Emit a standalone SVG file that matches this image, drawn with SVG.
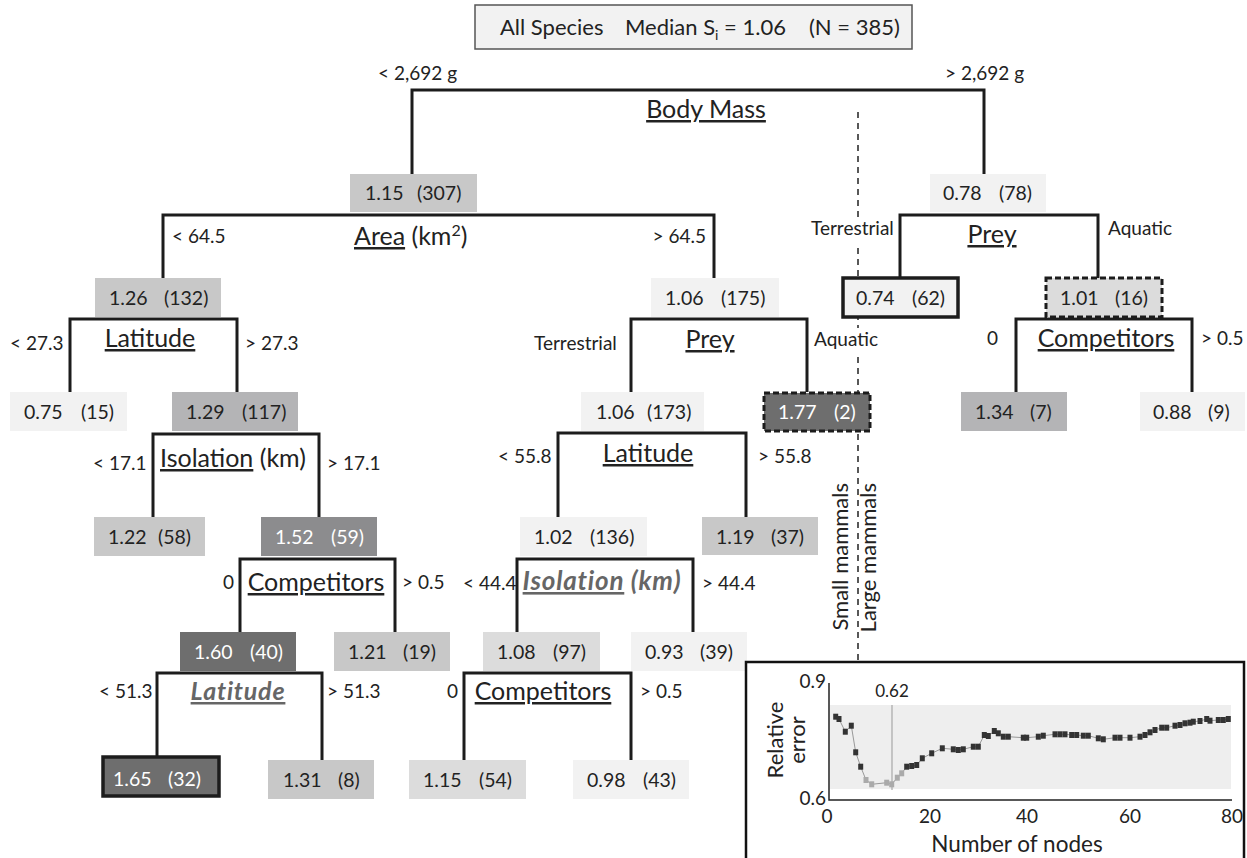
<svg xmlns="http://www.w3.org/2000/svg" width="1247" height="858" viewBox="0 0 1247 858">
<style>
text{font-family:Lato,"Liberation Sans",sans-serif;fill:#222}
.n{font-size:19.5px}
.w{fill:#fff}
.lab{font-size:25px;text-anchor:middle}
.u{text-decoration:underline}
.it{font-style:italic;font-weight:bold;fill:#666;letter-spacing:0.8px}
.br{font-size:19px}
.conn{fill:none;stroke:#1c1c1c;stroke-width:3;stroke-linejoin:miter}
.c1{fill:#f2f2f2}.c2{fill:#dcdcdc}.c3{fill:#c8c8c8}.c4{fill:#b4b4b6}.c5{fill:#8c8c8e}.c6{fill:#6e6e6e}
.bold{stroke:#1c1c1c;stroke-width:3.5}
.dash{stroke:#1c1c1c;stroke-width:3;stroke-dasharray:6,3}
.mk{fill:#333}.mkl{fill:#aaa}
</style>

<g id="header">
<rect x="475" y="5" width="437" height="44" fill="#f2f2f2" stroke="#555" stroke-width="1.5"/>
<text x="500" y="35" font-size="22">All Species<tspan x="625">Median S</tspan><tspan font-size="14" dy="5">i</tspan><tspan dy="-5"> = 1.06</tspan><tspan x="809">(N = 385)</tspan></text>
</g>

<g id="divider">
<path d="M858,112V218M858,248V328M858,357V662" stroke="#222" stroke-width="1.5" stroke-dasharray="6,5" fill="none"/>
<text transform="translate(848,483) rotate(-90)" font-size="22" text-anchor="end">Small mammals</text>
<text transform="translate(876,483) rotate(-90)" font-size="22" text-anchor="end">Large mammals</text>
</g>

<g id="connectors">
<path class="conn" d="M412,174V90H984V174"/>
<path class="conn" d="M163,278V215H714V278"/>
<path class="conn" d="M70,392V319H237V392"/>
<path class="conn" d="M153,517V434H319V517"/>
<path class="conn" d="M240,632V559H395V632"/>
<path class="conn" d="M157,767V673H322V760"/>
<path class="conn" d="M631,392V319H807V392"/>
<path class="conn" d="M558,517V433H746V517"/>
<path class="conn" d="M517,632V559H693V632"/>
<path class="conn" d="M464,760V673H631V760"/>
<path class="conn" d="M900,278V215H1098V278"/>
<path class="conn" d="M1016,392V319H1192V392"/>
</g>

<g id="split-labels">
<text class="lab u" x="706" y="118">Body Mass</text>
<text x="378" y="80" class="br">&lt; 2,692 g</text>
<text x="945" y="80" class="br">&gt; 2,692 g</text>
<text x="354" y="245" font-size="25"><tspan class="u">Area</tspan> (km<tspan font-size="16" dy="-9">2</tspan><tspan dy="9">)</tspan></text>
<text x="172" y="243" class="br">&lt; 64.5</text>
<text x="706" y="243" class="br" text-anchor="end">&gt; 64.5</text>
<text class="lab u" x="150" y="347">Latitude</text>
<text x="10" y="350" class="br">&lt; 27.3</text>
<text x="245" y="350" class="br">&gt; 27.3</text>
<text x="160" y="467" font-size="25"><tspan class="u">Isolation</tspan> (km)</text>
<text x="93" y="470" class="br">&lt; 17.1</text>
<text x="327" y="470" class="br">&gt; 17.1</text>
<text class="lab u" x="316" y="591">Competitors</text>
<text x="223" y="589" class="br">0</text>
<text x="402" y="589" class="br">&gt; 0.5</text>
<text class="lab u it" x="238" y="700" font-size="26">Latitude</text>
<text x="99" y="698" class="br">&lt; 51.3</text>
<text x="327" y="698" class="br">&gt; 51.3</text>
<text class="lab u" x="710" y="348">Prey</text>
<text x="534" y="350" class="br">Terrestrial</text>
<text x="814" y="346" class="br">Aquatic</text>
<text class="lab u" x="648" y="462">Latitude</text>
<text x="498" y="463" class="br">&lt; 55.8</text>
<text x="758" y="463" class="br">&gt; 55.8</text>
<text x="602" y="590" font-size="26" text-anchor="middle" class="it"><tspan class="u">Isolation</tspan> (km)</text>
<text x="463" y="590" class="br">&lt; 44.4</text>
<text x="702" y="590" class="br">&gt; 44.4</text>
<text class="lab u" x="543" y="700">Competitors</text>
<text x="447" y="698" class="br">0</text>
<text x="640" y="698" class="br">&gt; 0.5</text>
<text class="lab u" x="992" y="243">Prey</text>
<text x="811" y="235" class="br">Terrestrial</text>
<text x="1108" y="235" class="br">Aquatic</text>
<text class="lab u" x="1106" y="347">Competitors</text>
<text x="987" y="345" class="br">0</text>
<text x="1201" y="345" class="br">&gt; 0.5</text>
</g>

<g id="n-1-15-307"><rect class="c3" x="350" y="174" width="127" height="38"/><text class="n" x="365" y="200">1.15<tspan x="417">(307)</tspan></text></g>
<g id="n-0-78-78"><rect class="c1" x="930" y="174" width="116" height="38"/><text class="n" x="943" y="200">0.78<tspan x="999">(78)</tspan></text></g>
<g id="n-1-26-132"><rect class="c3" x="95" y="278" width="126" height="39"/><text class="n" x="109" y="305">1.26<tspan x="164">(132)</tspan></text></g>
<g id="n-1-06-175"><rect class="c1" x="651" y="278" width="128" height="39"/><text class="n" x="665" y="305">1.06<tspan x="721">(175)</tspan></text></g>
<g id="n-0-74-62"><rect class="c1 bold" x="843" y="278" width="115" height="39"/><text class="n" x="856" y="305">0.74<tspan x="912">(62)</tspan></text></g>
<g id="n-1-01-16"><rect class="c2 dash" x="1046" y="278" width="116" height="39"/><text class="n" x="1060" y="305">1.01<tspan x="1115">(16)</tspan></text></g>
<g id="n-0-75-15"><rect class="c1" x="10" y="392" width="117" height="39"/><text class="n" x="24" y="419">0.75<tspan x="81">(15)</tspan></text></g>
<g id="n-1-29-117"><rect class="c4" x="172" y="392" width="126" height="39"/><text class="n" x="186" y="419">1.29<tspan x="242">(117)</tspan></text></g>
<g id="n-1-06-173"><rect class="c1" x="581" y="392" width="123" height="39"/><text class="n" x="596" y="419">1.06<tspan x="647">(173)</tspan></text></g>
<g id="n-1-77-2"><rect class="c6 dash" x="764" y="393" width="106" height="38"/><text class="n w" x="778" y="419">1.77<tspan x="834">(2)</tspan></text></g>
<g id="n-1-34-7"><rect class="c4" x="961" y="392" width="106" height="39"/><text class="n" x="975" y="419">1.34<tspan x="1030">(7)</tspan></text></g>
<g id="n-0-88-9"><rect class="c1" x="1140" y="392" width="105" height="39"/><text class="n" x="1153" y="419">0.88<tspan x="1208">(9)</tspan></text></g>
<g id="n-1-22-58"><rect class="c3" x="94" y="517" width="111" height="39"/><text class="n" x="108" y="544">1.22<tspan x="158">(58)</tspan></text></g>
<g id="n-1-52-59"><rect class="c5" x="261" y="517" width="116" height="39"/><text class="n w" x="275" y="544">1.52<tspan x="331">(59)</tspan></text></g>
<g id="n-1-02-136"><rect class="c1" x="520" y="517" width="127" height="39"/><text class="n" x="534" y="544">1.02<tspan x="590">(136)</tspan></text></g>
<g id="n-1-19-37"><rect class="c3" x="702" y="517" width="116" height="38"/><text class="n" x="716" y="544">1.19<tspan x="771">(37)</tspan></text></g>
<g id="n-1-60-40"><rect class="c6" x="180" y="632" width="116" height="39"/><text class="n w" x="194" y="659">1.60<tspan x="250">(40)</tspan></text></g>
<g id="n-1-21-19"><rect class="c3" x="334" y="632" width="116" height="39"/><text class="n" x="348" y="659">1.21<tspan x="403">(19)</tspan></text></g>
<g id="n-1-08-97"><rect class="c2" x="483" y="632" width="117" height="39"/><text class="n" x="497" y="659">1.08<tspan x="553">(97)</tspan></text></g>
<g id="n-0-93-39"><rect class="c1" x="631" y="632" width="116" height="39"/><text class="n" x="645" y="659">0.93<tspan x="700">(39)</tspan></text></g>
<g id="n-1-65-32"><rect class="c6 bold" x="103" y="757" width="116" height="39"/><text class="n w" x="113" y="786">1.65<tspan x="168">(32)</tspan></text></g>
<g id="n-1-31-8"><rect class="c3" x="268" y="760" width="106" height="39"/><text class="n" x="283" y="787">1.31<tspan x="338">(8)</tspan></text></g>
<g id="n-1-15-54"><rect class="c2" x="409" y="760" width="117" height="39"/><text class="n" x="423" y="787">1.15<tspan x="479">(54)</tspan></text></g>
<g id="n-0-98-43"><rect class="c1" x="573" y="760" width="116" height="39"/><text class="n" x="587" y="787">0.98<tspan x="643">(43)</tspan></text></g>

<g id="inset">
<rect x="746" y="662" width="498" height="210" fill="#fff" stroke="#111" stroke-width="2.5"/>
<rect x="830" y="705" width="401" height="84" fill="#eeeeee"/>
<path d="M829,683V800H1232" fill="none" stroke="#222" stroke-width="1.5"/>
<line x1="892" y1="705" x2="892" y2="790" stroke="#999" stroke-width="1"/>
<text x="892" y="697" font-size="17" text-anchor="middle">0.62</text>
<text x="826" y="688" font-size="19" text-anchor="end">0.9</text>
<text x="826" y="805" font-size="19" text-anchor="end">0.6</text>
<g font-size="19" text-anchor="middle">
<text x="827" y="823">0</text><text x="930" y="823">20</text><text x="1027" y="823">40</text><text x="1130" y="823">60</text><text x="1232" y="823">80</text>
</g>
<text transform="translate(783,740) rotate(-90)" font-size="22" text-anchor="middle">Relative</text>
<text transform="translate(805,740) rotate(-90)" font-size="22" text-anchor="middle">error</text>
<text x="1017" y="852" font-size="22.5" text-anchor="middle">Number of nodes</text>
<polyline fill="none" stroke="#999" stroke-width="1" points="835.7,716.7 839,719 845.3,731.7 851.3,725.7 855.7,752.3 860.7,766.7 866,780 871.7,784.3 886.7,782.7 891.7,784.3 897.3,777.7 901.7,773.3 906.7,766.7 911.7,766 916.7,765 922.3,758.3 931.7,753.3 942.3,748.3 953.3,749.3 958.3,750 963.3,749.3 973.3,746.7 978.3,746.7 984.3,735 988.3,736 994.3,731 998.3,733.3 1003.3,736.7 1008.3,736.7 1023.3,737.7 1026.7,737.7 1038.3,736.7 1043.3,735.7 1055,734.3 1060,734.3 1065,734.3 1071.7,735 1076.7,735 1083.3,735.7 1088.3,735.7 1098.3,738.3 1103.3,739.3 1115,737.7 1120,737.7 1130,737.7 1140,736.7 1145,735 1150,732.3 1155,730 1161.7,727.7 1166.7,727.7 1175,725.7 1180,725 1185,723.3 1190,722.7 1193.3,721.7 1200,721 1206.7,719 1210,720.7 1218.3,720 1223.3,720 1228.3,719"/>
<g class="mk">
<rect x="833.2" y="713.7" width="5" height="6"/><rect x="836.5" y="716" width="5" height="6"/><rect x="842.8" y="728.7" width="5" height="6"/><rect x="848.8" y="722.7" width="5" height="6"/><rect x="853.2" y="749.3" width="5" height="6"/><rect x="858.2" y="763.7" width="5" height="6"/>
<rect x="904.2" y="763.7" width="5" height="6"/><rect x="909.2" y="763" width="5" height="6"/><rect x="914.2" y="762" width="5" height="6"/><rect x="919.8" y="755.3" width="5" height="6"/><rect x="929.2" y="750.3" width="5" height="6"/><rect x="939.8" y="745.3" width="5" height="6"/><rect x="950.8" y="746.3" width="5" height="6"/><rect x="955.8" y="747" width="5" height="6"/><rect x="960.8" y="746.3" width="5" height="6"/><rect x="970.8" y="743.7" width="5" height="6"/><rect x="975.8" y="743.7" width="5" height="6"/><rect x="981.8" y="732" width="5" height="6"/><rect x="985.8" y="733" width="5" height="6"/><rect x="991.8" y="728" width="5" height="6"/><rect x="995.8" y="730.3" width="5" height="6"/><rect x="1000.8" y="733.7" width="5" height="6"/><rect x="1005.8" y="733.7" width="5" height="6"/><rect x="1020.8" y="734.7" width="5" height="6"/><rect x="1024.2" y="734.7" width="5" height="6"/><rect x="1035.8" y="733.7" width="5" height="6"/><rect x="1040.8" y="732.7" width="5" height="6"/><rect x="1052.5" y="731.3" width="5" height="6"/><rect x="1057.5" y="731.3" width="5" height="6"/><rect x="1062.5" y="731.3" width="5" height="6"/><rect x="1069.2" y="732" width="5" height="6"/><rect x="1074.2" y="732" width="5" height="6"/><rect x="1080.8" y="732.7" width="5" height="6"/><rect x="1085.8" y="732.7" width="5" height="6"/><rect x="1095.8" y="735.3" width="5" height="6"/><rect x="1100.8" y="736.3" width="5" height="6"/><rect x="1112.5" y="734.7" width="5" height="6"/><rect x="1117.5" y="734.7" width="5" height="6"/><rect x="1127.5" y="734.7" width="5" height="6"/><rect x="1137.5" y="733.7" width="5" height="6"/><rect x="1142.5" y="732" width="5" height="6"/><rect x="1147.5" y="729.3" width="5" height="6"/><rect x="1152.5" y="727" width="5" height="6"/><rect x="1159.2" y="724.7" width="5" height="6"/><rect x="1164.2" y="724.7" width="5" height="6"/><rect x="1172.5" y="722.7" width="5" height="6"/><rect x="1177.5" y="722" width="5" height="6"/><rect x="1182.5" y="720.3" width="5" height="6"/><rect x="1187.5" y="719.7" width="5" height="6"/><rect x="1190.8" y="718.7" width="5" height="6"/><rect x="1197.5" y="718" width="5" height="6"/><rect x="1204.2" y="716" width="5" height="6"/><rect x="1207.5" y="717.7" width="5" height="6"/><rect x="1215.8" y="717" width="5" height="6"/><rect x="1220.8" y="717" width="5" height="6"/><rect x="1225.8" y="716" width="5" height="6"/>
</g>
<g class="mkl">
<rect x="863.5" y="777" width="5" height="6"/><rect x="869.2" y="781.3" width="5" height="6"/><rect x="884.2" y="779.7" width="5" height="6"/><rect x="889.2" y="781.3" width="5" height="6"/><rect x="894.8" y="774.7" width="5" height="6"/><rect x="899.2" y="770.3" width="5" height="6"/>
</g>
</g>
</svg>
